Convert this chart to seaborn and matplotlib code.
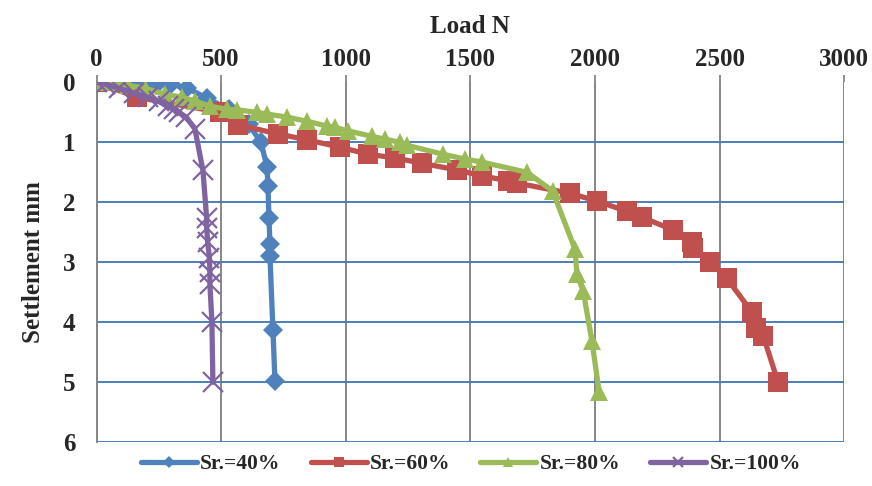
import numpy as np
import pandas as pd
import matplotlib
matplotlib.use('Agg')
import matplotlib.pyplot as plt
import seaborn as sns

# load (N) and settlement (mm)
load_40 = [0, 155, 240, 300, 365, 445, 530, 610, 660, 684, 688, 692, 696, 696, 708, 716]
sett_40 = [0, 0.0, 0.05, 0.03, 0.1, 0.27, 0.45, 0.7, 1.0, 1.41, 1.73, 2.26, 2.70, 2.90, 4.13, 4.98]

load_60 = [0, 163, 496, 569, 728, 845, 977, 1089, 1198, 1306, 1446, 1546, 1651, 1687,
           1900, 2008, 2129, 2189, 2314, 2390, 2394, 2462, 2530, 2630, 2647, 2675, 2735]
sett_60 = [0, 0.25, 0.5, 0.71, 0.86, 0.96, 1.08, 1.2, 1.26, 1.35, 1.46, 1.56, 1.64, 1.68,
           1.85, 1.98, 2.15, 2.25, 2.46, 2.66, 2.76, 3.0, 3.27, 3.83, 4.1, 4.22, 5.0]

load_80 = [0, 55, 125, 195, 275, 343, 395, 455, 524, 564, 644, 684, 764, 845, 925, 957,
           1009, 1105, 1158, 1218, 1246, 1391, 1479, 1547, 1727, 1830, 1920, 1928, 1953, 1988, 2017]
sett_80 = [0, 0.0, 0.05, 0.1, 0.2, 0.25, 0.31, 0.4, 0.45, 0.46, 0.5, 0.53, 0.58, 0.65, 0.73, 0.75,
           0.81, 0.9, 0.95, 1.0, 1.05, 1.2, 1.28, 1.33, 1.5, 1.81, 2.78, 3.2, 3.48, 4.31, 5.16]

load_100 = [0, 35, 90, 150, 205, 250, 285, 310, 330, 360, 395, 427, 442, 442, 446, 453, 455, 455, 463, 467]
sett_100 = [0, 0.03, 0.1, 0.18, 0.25, 0.32, 0.4, 0.45, 0.5, 0.58, 0.78, 1.47, 2.27, 2.43, 2.66,
            2.93, 3.16, 3.37, 3.99, 5.0]

labels = ['Sr.=40%', 'Sr.=60%', 'Sr.=80%', 'Sr.=100%']
x_ticks = [0, 500, 1000, 1500, 2000, 2500, 3000]
y_ticks = [0, 1, 2, 3, 4, 5, 6]

colors = ['#4F81BD', '#C0504D', '#9BBB59', '#8064A2']
markers = ['D', 's', '^', 'x']
msizes = [10.5, 14, 13, 14]

sns.set_style('white')
plt.rcParams['font.family'] = ['Liberation Serif', 'DejaVu Serif']
plt.rcParams['font.weight'] = 'bold'

fig = plt.figure(figsize=(8.72, 4.86), dpi=100)
ax = fig.add_axes([0.1107, 0.0899, 0.8573, 0.7408])

series = [(load_40, sett_40), (load_60, sett_60), (load_80, sett_80), (load_100, sett_100)]
for i, (xs, ys) in enumerate(series):
    df = pd.DataFrame({'load': xs, 'sett': ys})
    kw = dict(markeredgewidth=1.6) if markers[i] == 'x' else dict(markeredgewidth=0)
    sns.lineplot(data=df, x='load', y='sett', sort=False, estimator=None, ax=ax,
                 color=colors[i], lw=3.8, marker=markers[i], markersize=msizes[i],
                 markeredgecolor=colors[i], label=labels[i], zorder=3 + i, **kw)

ax.set_xlim(0, 3000)
ax.set_ylim(6, 0)
ax.set_xticks(x_ticks)
ax.set_yticks(y_ticks)
ax.xaxis.tick_top()
ax.xaxis.set_label_position('top')
ax.set_xlabel('Load N', fontsize=18, fontweight='bold', labelpad=11)
ax.set_ylabel('Settlement mm', fontsize=18, fontweight='bold', labelpad=13)
ax.tick_params(axis='both', labelsize=18, direction='out', length=5, color='#868686', width=1.3)
ax.tick_params(axis='x', pad=3)
ax.tick_params(axis='y', pad=10)
for t in ax.get_xticklabels() + ax.get_yticklabels():
    t.set_fontweight('bold')

ax.grid(axis='y', color='#4A7EBB', lw=1.4, zorder=1)
ax.grid(axis='x', color='#868686', lw=1.4, zorder=1)
ax.get_ygridlines()[0].set_visible(False)
ax.set_axisbelow(True)

for s in ['top', 'right', 'bottom']:
    ax.spines[s].set_visible(False)
ax.spines['left'].set_color('#868686')
ax.spines['left'].set_linewidth(1.4)

leg = ax.legend(loc='center', bbox_to_anchor=(0.54, 0.045), bbox_transform=fig.transFigure,
                ncol=4, frameon=False, fontsize=15.5, handlelength=2.6, handletextpad=0.15,
                columnspacing=1.4, markerscale=0.55)
for t in leg.get_texts():
    t.set_fontweight('bold')

fig.savefig('out.png', dpi=100)
